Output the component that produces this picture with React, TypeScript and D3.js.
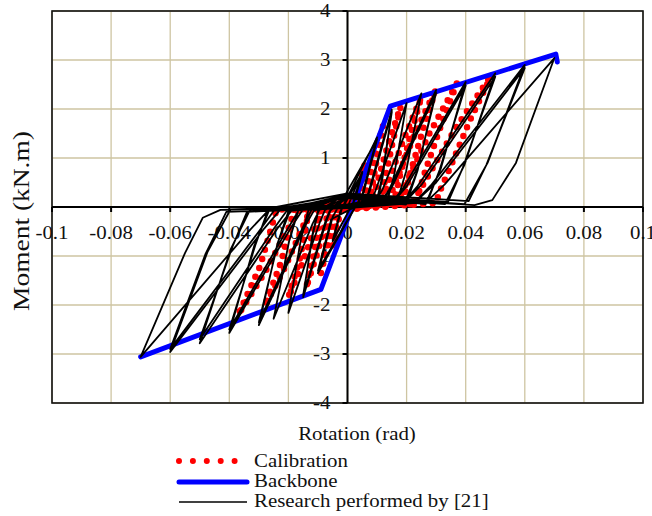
import React from "react";
import * as d3 from "d3";

type Pt = [number, number];

// axis ticks
const xTicks = [-0.1, -0.08, -0.06, -0.04, -0.02, 0, 0.02, 0.04, 0.06, 0.08, 0.1];
const xTickLabels = ["-0.1", "-0.08", "-0.06", "-0.04", "-0.02", "0", "0.02", "0.04", "0.06", "0.08", "0.1"];
const yTicks = [-4, -3, -2, -1, 0, 1, 2, 3, 4];
const yTickLabels = ["-4", "-3", "-2", "-1", "0", "1", "2", "3", "4"];

const seriesNames = ["Calibration", "Backbone", "Research performed by [21]"];

// backbone envelope (rotation rad, moment kN.m)
const backbone: Pt[] = [
  [-0.07, -3.06], [-0.009, -1.68], [0.0145, 2.06], [0.0705, 3.12], [0.071, 2.96],
];

// calibration model
const calibration: Pt[] = [
  [0, 0],
  [0.0027, 0.08], [0.0045, 0.54], [0.006, 0.9], [0.0051, 0.59], [0.0043, 0.26], [0.0037, 0.05], [0, 0.1],
  [-0.0023, -0.06], [-0.0038, -0.48], [-0.005, -0.8], [-0.004, -0.44], [-0.0037, -0.25], [-0.0033, -0.05], [0, -0.04],
  [0.0054, 0.08], [0.009, 0.99], [0.012, 1.65], [0.0102, 1.07], [0.0085, 0.48], [0.0074, 0.05], [0, 0.1],
  [-0.0041, -0.06], [-0.0068, -0.81], [-0.009, -1.35], [-0.0072, -0.74], [-0.0066, -0.42], [-0.0059, -0.05], [0, -0.04],
  [0.0081, 0.08], [0.0135, 1.23], [0.018, 2.05], [0.0153, 1.33], [0.0128, 0.59], [0.0112, 0.05], [0, 0.12],
  [-0.0063, -0.06], [-0.0105, -0.99], [-0.014, -1.65], [-0.0112, -0.91], [-0.0102, -0.51], [-0.0091, -0.05], [0, -0.02],
  [0.0113, 0.08], [0.0188, 1.35], [0.025, 2.25], [0.0213, 1.46], [0.0178, 0.65], [0.0155, 0.05], [0, 0.1],
  [-0.009, -0.06], [-0.015, -1.11], [-0.02, -1.85], [-0.016, -1.02], [-0.0146, -0.57], [-0.013, -0.05], [0, -0.04],
  [0.0135, 0.08], [0.0225, 1.45], [0.03, 2.42], [0.0255, 1.57], [0.0213, 0.7], [0.0186, 0.05], [0, 0.12],
  [-0.0126, -0.06], [-0.021, -1.21], [-0.028, -2.02], [-0.0224, -1.11], [-0.0204, -0.63], [-0.0182, -0.05], [0, -0.03],
  [0.0167, 0.08], [0.0278, 1.51], [0.037, 2.52], [0.0315, 1.64], [0.0263, 0.73], [0.0229, 0.05], [0, 0.1],
  [-0.0167, -0.06], [-0.0278, -1.32], [-0.037, -2.2], [-0.0296, -1.21], [-0.027, -0.68], [-0.024, -0.05], [0, -0.04],
  [0.022, 0.08], [0.0368, 1.63], [0.049, 2.72], [0.0415, 1.78], [0.0347, 0.8], [0.031, 0.29], [0.03, 0.08],
  [0, -0.05], [-0.012, -0.1],
];

// test results of [21], black hysteresis loops
const research: Pt[] = [
  [0, 0], [0.005, 0.72], [0.002, 0.1], [-0.005, -0.7], [-0.002, -0.05],
  [0.005, 0.7], [0.0025, 0.15], [-0.005, -0.68], [-0.0025, -0.1],
  [0.01, 1.42], [0.005, 0.25], [-0.01, -1.35], [-0.005, -0.2],
  [0.01, 1.38], [0.0055, 0.3], [-0.01, -1.3], [-0.0055, -0.25],
  [0.0057, 0.1], [0.0071, 0.3], [0.015, 1.98], [0.0119, 0.61], [0.0099, 0.06], [0, 0.25],
  [-0.0057, -0.06], [-0.0071, -0.28], [-0.015, -1.84], [-0.0119, -0.57], [-0.0099, -0.06], [0, 0.05],
  [0.006, 0.12], [0.0075, 0.32], [0.015, 1.94], [0.0116, 0.58], [0.0097, 0.08], [0, 0.2],
  [-0.006, -0.08], [-0.0075, -0.3], [-0.015, -1.8], [-0.0117, -0.55], [-0.0097, -0.04], [0, 0.02],
  [0.0076, 0.1], [0.0094, 0.32], [0.02, 2.12], [0.0158, 0.66], [0.0132, 0.06], [0.001, 0.2],
  [-0.0076, -0.06], [-0.0094, -0.32], [-0.02, -2.16], [-0.0158, -0.67], [-0.0132, -0.06], [0, 0],
  [0.0095, 0.12], [0.0118, 0.35], [0.025, 2.32], [0.0198, 0.72], [0.0165, 0.06], [-0.001, 0.24],
  [-0.0095, -0.06], [-0.0118, -0.34], [-0.025, -2.28], [-0.0198, -0.71], [-0.0165, -0.04], [0.001, 0.06],
  [0.0114, 0.1], [0.0141, 0.36], [0.03, 2.39], [0.0237, 0.74], [0.0198, 0.05], [0, 0.18],
  [-0.0114, -0.08], [-0.0141, -0.36], [-0.03, -2.41], [-0.0237, -0.75], [-0.0198, -0.05], [0, 0.03],
  [0.012, 0.14], [0.015, 0.4], [0.03, 2.33], [0.0234, 0.7], [0.0195, 0.1], [0, 0.26],
  [-0.012, -0.04], [-0.015, -0.4], [-0.03, -2.35], [-0.0234, -0.7], [-0.0195, -0.08], [0, 0.01],
  [0.0152, 0.1], [0.0188, 0.38], [0.04, 2.55], [0.0316, 0.79], [0.0264, 0.06], [0, 0.22],
  [-0.0152, -0.06], [-0.0188, -0.39], [-0.04, -2.57], [-0.0316, -0.8], [-0.0264, -0.05], [0, 0.04],
  [0.016, 0.14], [0.02, 0.42], [0.04, 2.48], [0.0312, 0.76], [0.027, 0.1], [0, 0.26],
  [-0.016, -0.02], [-0.02, -0.42], [-0.04, -2.5], [-0.0312, -0.78], [-0.027, -0.08], [0, 0],
  [0.019, 0.1], [0.0235, 0.41], [0.05, 2.73], [0.0395, 0.85], [0.033, 0.06], [0, 0.2],
  [-0.019, -0.08], [-0.0235, -0.42], [-0.05, -2.78], [-0.0395, -0.86], [-0.033, -0.06], [0, 0.05],
  [0.02, 0.14], [0.025, 0.45], [0.05, 2.66], [0.039, 0.8], [0.034, 0.1], [0, 0.25],
  [-0.02, -0.03], [-0.025, -0.45], [-0.05, -2.7], [-0.039, -0.82], [-0.034, -0.1], [0, 0.01],
  [0.0228, 0.1], [0.0282, 0.44], [0.06, 2.9], [0.0474, 0.9], [0.0396, 0.06], [0, 0.22],
  [-0.0228, -0.06], [-0.0282, -0.44], [-0.06, -2.96], [-0.0474, -0.92], [-0.0396, -0.05], [0, 0.03],
  [0.024, 0.16], [0.03, 0.5], [0.06, 2.84], [0.047, 0.86], [0.041, 0.12], [0, 0.28],
  [-0.024, 0], [-0.03, -0.5], [-0.06, -2.9], [-0.048, -0.95], [-0.041, -0.1], [0, -0.02],
  [0.0266, 0.1], [0.0329, 0.46], [0.07, 3.04], [0.057, 0.9], [0.049, 0.14], [0.043, 0.04], [0, 0.2],
  [-0.0266, -0.06], [-0.0329, -0.46], [-0.07, -3.06], [-0.055, -0.94], [-0.049, -0.22], [-0.043, -0.06], [-0.01, 0],
];

const font = "Liberation Serif, Times New Roman, DejaVu Serif, serif";

// the source image is a little wider than tall, so text is stretched sideways
function Label(props: { x: number; y: number; anchor?: string; dy?: string; children: React.ReactNode }) {
  return (
    <text transform={`translate(${props.x},${props.y}) scale(1.16,1)`} textAnchor={props.anchor ?? "start"}
      dy={props.dy} fill="#111">
      {props.children}
    </text>
  );
}

export default function App() {
  const width = 652, height = 516;
  const margin = { top: 11, right: 9, bottom: 113, left: 52 };
  const x = d3.scaleLinear().domain([-0.1, 0.1]).range([margin.left, width - margin.right]);
  const y = d3.scaleLinear().domain([-4, 4]).range([height - margin.bottom, margin.top]);
  const line = d3.line<Pt>().x(d => x(d[0])).y(d => y(d[1]));

  const x0 = x(0), y0 = y(0);
  const gridColor = "#cec5a2";

  return (
    <svg width={width} height={height} style={{ position: "absolute", left: 0, top: 0, fontFamily: font, fontSize: 18 }}>
      <rect width={width} height={height} fill="#fff" />

      {/* grid */}
      {xTicks.map(t => (
        <line key={"gx" + t} x1={x(t)} x2={x(t)} y1={y(4)} y2={y(-4)} stroke={gridColor} strokeWidth={1.3} />
      ))}
      {yTicks.map(t => (
        <line key={"gy" + t} x1={x(-0.1)} x2={x(0.1)} y1={y(t)} y2={y(t)} stroke={gridColor} strokeWidth={1.3} />
      ))}

      {/* frame */}
      <rect x={x(-0.1)} y={y(4)} width={x(0.1) - x(-0.1)} height={y(-4) - y(4)}
        fill="none" stroke="#111" strokeWidth={1.6} />

      {/* axes through the origin */}
      <line x1={x(-0.1)} x2={x(0.1)} y1={y0} y2={y0} stroke="#000" strokeWidth={2} />
      <line x1={x0} x2={x0} y1={y(4)} y2={y(-4)} stroke="#000" strokeWidth={2} />
      {xTicks.map(t => (
        <line key={"tx" + t} x1={x(t)} x2={x(t)} y1={y0} y2={y0 + 5} stroke="#000" strokeWidth={2} />
      ))}
      {yTicks.map(t => (
        <line key={"ty" + t} x1={x0 - 5} x2={x0} y1={y(t)} y2={y(t)} stroke="#000" strokeWidth={2} />
      ))}

      {/* tick labels */}
      {xTicks.map((t, i) => (
        <Label key={"lx" + t} x={x(t)} y={y0 + 32} anchor="middle">{xTickLabels[i]}</Label>
      ))}
      {yTicks.map((t, i) => (
        <Label key={"ly" + t} x={x0 - 17} y={y(t)} dy="0.35em" anchor="end">{yTickLabels[i]}</Label>
      ))}

      {/* series */}
      <path d={line(calibration) ?? ""} fill="none" stroke="#ff0000" strokeWidth={6.5}
        strokeDasharray="0 9.5" strokeLinecap="round" strokeLinejoin="round" />
      <path d={line(backbone) ?? ""} fill="none" stroke="#0000ff" strokeWidth={5}
        strokeLinecap="round" strokeLinejoin="round" />
      <path d={line(research) ?? ""} fill="none" stroke="#000" strokeWidth={1.8}
        strokeLinejoin="round" />

      {/* axis titles */}
      <Label x={357} y={440} anchor="middle">Rotation (rad)</Label>
      <text transform="translate(29,221) rotate(-90)" textAnchor="middle" fill="#111" fontSize={23}
        textLength={180} lengthAdjust="spacingAndGlyphs">Moment (kN.m)</text>

      {/* legend */}
      <line x1={179} x2={235} y1={461} y2={461} stroke="#ff0000" strokeWidth={6}
        strokeDasharray="0 13.9" strokeLinecap="round" />
      <Label x={254} y={467}>{seriesNames[0]}</Label>
      <line x1={179} x2={247} y1={482} y2={482} stroke="#0000ff" strokeWidth={5} strokeLinecap="round" />
      <Label x={254} y={487}>{seriesNames[1]}</Label>
      <line x1={179} x2={247} y1={502} y2={502} stroke="#000" strokeWidth={1.6} />
      <Label x={254} y={507}>{seriesNames[2]}</Label>
    </svg>
  );
}
